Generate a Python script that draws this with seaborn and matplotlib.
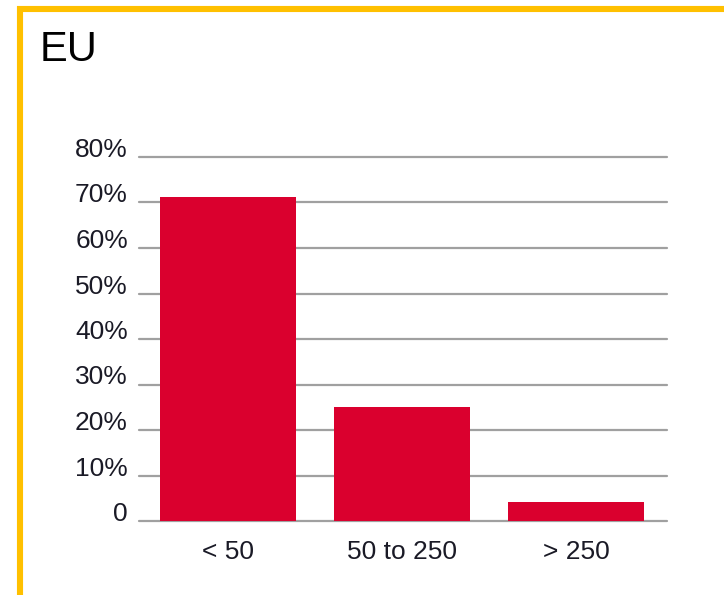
import matplotlib
matplotlib.use("Agg")
import matplotlib.pyplot as plt
import seaborn as sns
from matplotlib.lines import Line2D

categories = ["< 50", "50 to 250", "> 250"]
values = [71.2, 25.1, 4.2]
yticks = [0, 10, 20, 30, 40, 50, 60, 70, 80]
ytick_labels = ["0", "10%", "20%", "30%", "40%", "50%", "60%", "70%", "80%"]
title = "EU"

sns.set_theme(style="white")
plt.rcParams["font.family"] = ["Liberation Sans", "DejaVu Sans"]

W, H = 724, 595
fig = plt.figure(figsize=(W / 100, H / 100), dpi=100)
fig.patch.set_facecolor("white")
ax = fig.add_axes([139 / W, (H - 521) / H, 528 / W, 364 / H])

sns.barplot(x=categories, y=values, color="#DA002E", saturation=1, width=0.78,
            linewidth=0, ax=ax, zorder=3)

ax.set_xlim(-0.51, 2.52)
ax.set_ylim(0, 80)
ax.set_yticks(yticks)
ax.set_yticklabels(ytick_labels)
ax.set_xlabel("")
ax.set_ylabel("")
for s in ax.spines.values():
    s.set_visible(False)
ax.yaxis.grid(True, color="#A0A0A0", linewidth=1.6)
ax.set_axisbelow(True)
for gl in ax.get_ygridlines():
    gl.set_clip_on(False)
ax.tick_params(axis="y", length=0, pad=8, labelsize=19, labelcolor="#1A1A26")
ax.tick_params(axis="x", length=0, pad=14, labelsize=19, labelcolor="#1A1A26")
for lab in ax.get_yticklabels():
    lab.set_verticalalignment("baseline")
for lab in ax.get_yticklabels() + ax.get_xticklabels():
    lab.set_fontweight("medium")

fig.text(40 / W, (H - 61) / H, title, fontsize=30, color="black",
         ha="left", va="baseline")

# yellow frame (top and left)
fig.add_artist(Line2D([17 / W, 1.0], [(H - 9) / H, (H - 9) / H],
                      transform=fig.transFigure, color="#FFC000", linewidth=4.4,
                      solid_capstyle="butt"))
fig.add_artist(Line2D([20 / W, 20 / W], [0, (H - 6) / H],
                      transform=fig.transFigure, color="#FFC000", linewidth=4.4,
                      solid_capstyle="butt"))

fig.savefig("out.png", dpi=100)
